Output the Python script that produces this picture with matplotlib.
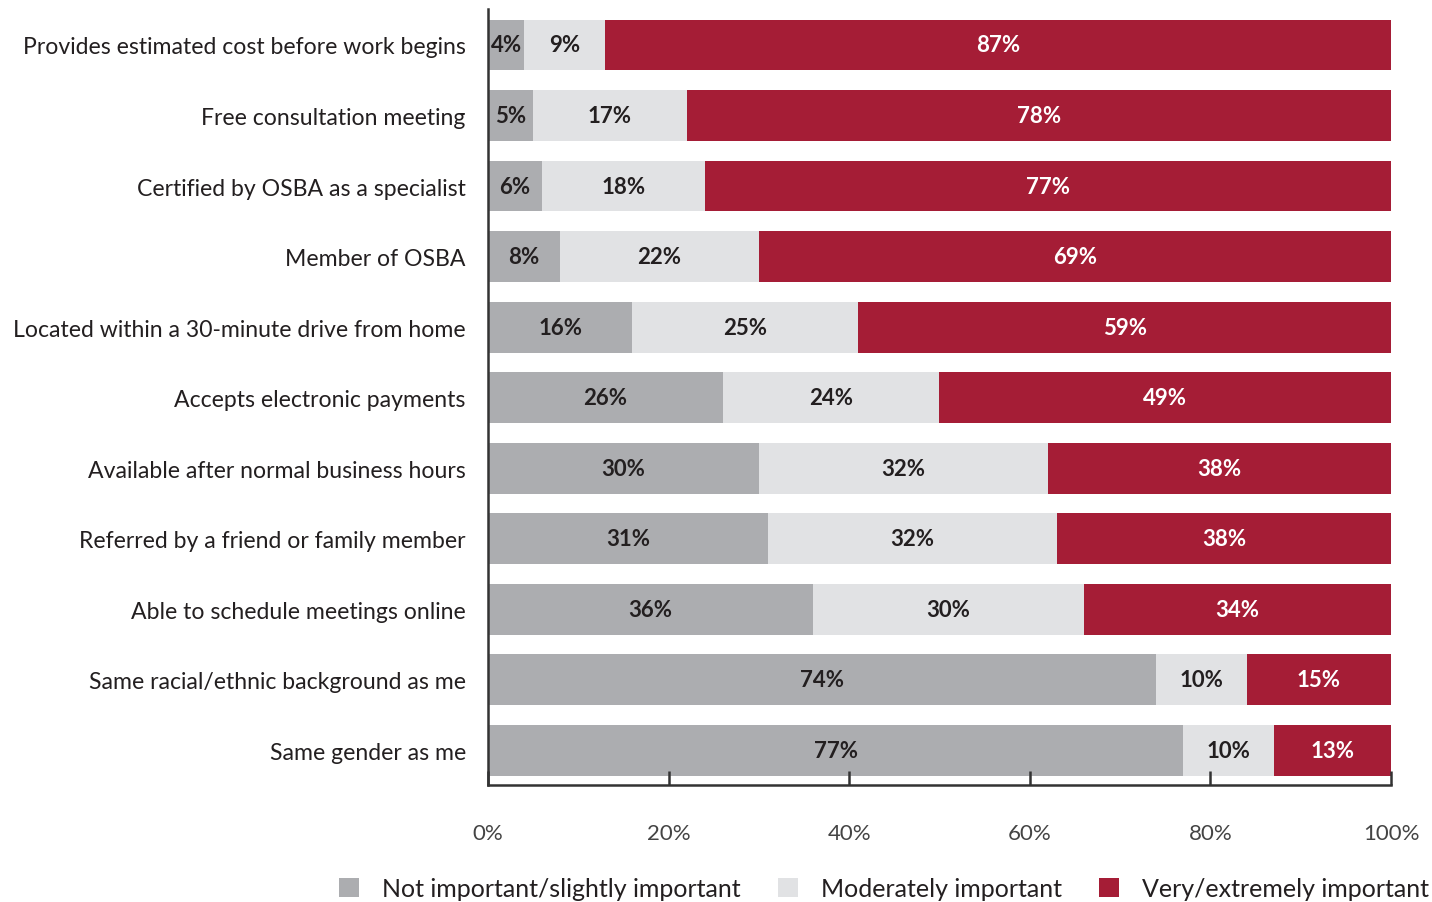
import matplotlib
matplotlib.use('Agg')
import matplotlib.pyplot as plt
import numpy as np

plt.rcParams['font.family'] = ['Lato', 'DejaVu Sans']

categories = ['Provides estimated cost before work begins',
              'Free consultation meeting',
              'Certified by OSBA as a specialist',
              'Member of OSBA',
              'Located within a 30-minute drive from home',
              'Accepts electronic payments',
              'Available after normal business hours',
              'Referred by a friend or family member',
              'Able to schedule meetings online',
              'Same racial/ethnic background as me',
              'Same gender as me']
not_important = [4, 5, 6, 8, 16, 26, 30, 31, 36, 74, 77]
moderately = [9, 17, 18, 22, 25, 24, 32, 32, 30, 10, 10]
very = [87, 78, 77, 69, 59, 49, 38, 38, 34, 15, 13]
series_names = ['Not important/slightly important', 'Moderately important',
                'Very/extremely important']
colors = ['#acadb0', '#e1e2e4', '#a51d36']
text_colors = ['#231f20', '#231f20', 'white']

fig = plt.figure(figsize=(14.32, 9.03), dpi=100)
ax = fig.add_axes([488 / 1432, 1 - 786 / 903, (1391 - 488) / 1432, (786 - 10) / 903])

y = np.arange(len(categories))
left = np.zeros(len(categories))
series = [not_important, moderately, very]
for i in range(3):
    vals = np.array(series[i], dtype=float)
    # last segment fills the bar out to 100% (values are rounded)
    widths = vals if i < 2 else 100 - left
    bars = ax.barh(y, widths, left=left, height=0.72, color=colors[i],
                   label=series_names[i])
    ax.bar_label(bars, labels=['%d%%' % v for v in vals], label_type='center',
                 color=text_colors[i], fontsize=16, fontweight='bold')
    left += widths

ax.set_xlim(0, 100)
ax.set_ylim(len(categories) - 0.51, -0.51)
ax.set_yticks(y)
ax.set_yticklabels(categories, fontsize=16.6, color='#231f20')
ax.tick_params(axis='y', length=0, pad=16)
ax.set_xticks([0, 20, 40, 60, 80, 100])
ax.set_xticklabels(['0%', '20%', '40%', '60%', '80%', '100%'], fontsize=16, color='#444444')
ax.tick_params(axis='x', direction='in', length=10, width=1.8, color='#333333', pad=27)
for s in ['top', 'right']:
    ax.spines[s].set_visible(False)
for s in ['left', 'bottom']:
    ax.spines[s].set_linewidth(1.8)
    ax.spines[s].set_color('#333333')

fig.legend(loc='center', bbox_to_anchor=(884 / 1432, 1 - 890 / 903), ncol=3,
           frameon=False, fontsize=18, handlelength=0.8, handleheight=0.8,
           columnspacing=1.5, handletextpad=0.9, labelcolor='#231f20')

fig.savefig('out.png', dpi=100)
